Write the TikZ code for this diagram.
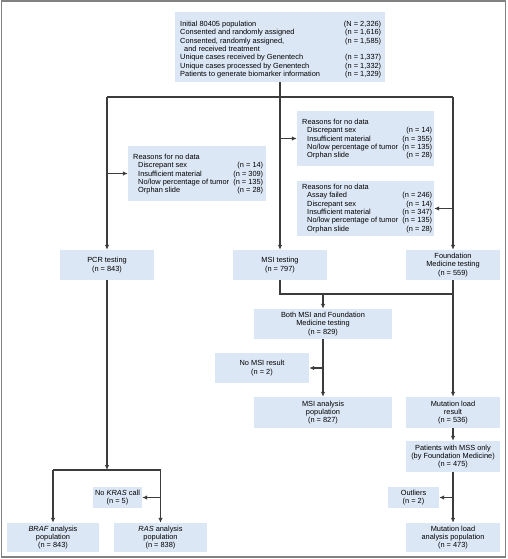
\documentclass[tikz,border=0pt]{standalone}
\usepackage{fontspec}
\setmainfont{Liberation Sans}
\usetikzlibrary{arrows.meta}
\definecolor{boxblue}{RGB}{220,231,246}
\definecolor{linegray}{RGB}{60,60,60}
\definecolor{framegray}{RGB}{130,130,130}
\tikzset{
  box/.style={fill=boxblue, draw=none, inner sep=0pt, align=center, font=\fontsize{7.4}{8.3}\selectfont},
  conn/.style={draw=linegray, line width=1.1pt},
  arr/.style={conn, -{Latex[length=5pt,width=4.5pt]}},
  txt/.style={anchor=base west, inner sep=0pt, font=\fontsize{7.4}{8.3}\selectfont},
}
\setlength{\tabcolsep}{0pt}
\begin{document}
\begin{tikzpicture}[x=1pt,y=-1pt]
\useasboundingbox (0,0) rectangle (507,559);
\draw[framegray, line width=1.3pt] (1.5,1) rectangle (505.5,557);

% boxes
\node[box, minimum width=210pt, minimum height=70pt] (top) at (280,47) {};
\node[txt] at (180,26.6) {\begin{tabular*}{201pt}[t]{@{\extracolsep{\fill}}lr@{}}
Initial 80405 population & (N = 2,326)\\
Consented and randomly assigned & (n = 1,616)\\
Consented, randomly assigned, & (n = 1,585)\\
\hspace{4pt}and received treatment & \\
Unique cases received by Genentech & (n = 1,337)\\
Unique cases processed by Genentech & (n = 1,332)\\
Patients to generate biomarker information & (n = 1,329)
\end{tabular*}};

\node[box, minimum width=138pt, minimum height=55pt] (r1) at (197,173.5) {};
\node[txt] at (133,159.6) {\begin{tabular*}{130pt}[t]{@{\extracolsep{\fill}}lr@{}}
\multicolumn{2}{@{}l@{}}{Reasons for no data}\\
\hspace{5pt}Discrepant sex & (n = 14)\\
\hspace{5pt}Insufficient material & (n = 309)\\
\hspace{5pt}No/low percentage of tumor & (n = 135)\\
\hspace{5pt}Orphan slide & (n = 28)
\end{tabular*}};

\node[box, minimum width=137pt, minimum height=55pt] (r2) at (365.5,138.5) {};
\node[txt] at (302,124.6) {\begin{tabular*}{130pt}[t]{@{\extracolsep{\fill}}lr@{}}
\multicolumn{2}{@{}l@{}}{Reasons for no data}\\
\hspace{5pt}Discrepant sex & (n = 14)\\
\hspace{5pt}Insufficient material & (n = 355)\\
\hspace{5pt}No/low percentage of tumor & (n = 135)\\
\hspace{5pt}Orphan slide & (n = 28)
\end{tabular*}};

\node[box, minimum width=137pt, minimum height=55pt] (r3) at (365.5,208.5) {};
\node[txt] at (302,189.6) {\begin{tabular*}{130pt}[t]{@{\extracolsep{\fill}}lr@{}}
\multicolumn{2}{@{}l@{}}{Reasons for no data}\\
\hspace{5pt}Assay failed & (n = 246)\\
\hspace{5pt}Discrepant sex & (n = 14)\\
\hspace{5pt}Insufficient material & (n = 347)\\
\hspace{5pt}No/low percentage of tumor & (n = 135)\\
\hspace{5pt}Orphan slide & (n = 28)
\end{tabular*}};

\node[box, minimum width=94pt, minimum height=30pt] (pcr) at (107,265) {PCR testing\\(n = 843)};
\node[box, minimum width=94pt, minimum height=30pt] (msi) at (280,265) {MSI testing\\(n = 797)};
\node[box, minimum width=94pt, minimum height=30pt] (fmt) at (453,265) {Foundation\\Medicine testing\\(n = 559)};
\node[box, minimum width=138pt, minimum height=30pt] (both) at (323,324) {Both MSI and Foundation\\Medicine testing\\(n = 829)};
\node[box, minimum width=94pt, minimum height=30pt] (nomsi) at (262,368) {No MSI result\\(n = 2)};
\node[box, minimum width=138pt, minimum height=31pt] (msia) at (323,412.5) {MSI analysis\\population\\(n = 827)};
\node[box, minimum width=94pt, minimum height=31pt] (mlr) at (453,412.5) {Mutation load\\result\\(n = 536)};
\node[box, minimum width=94pt, minimum height=31pt] (mss) at (453,456.5) {Patients with MSS only\\(by Foundation Medicine)\\(n = 475)};
\node[box, minimum width=51pt, minimum height=21pt] (outl) at (413.5,497.5) {Outliers\\(n = 2)};
\node[box, minimum width=94pt, minimum height=29pt] (mla) at (453,537.5) {Mutation load\\analysis population\\(n = 473)};
\node[box, minimum width=49pt, minimum height=21pt] (nokras) at (117.5,497.5) {No \textit{KRAS} call\\(n = 5)};
\node[box, minimum width=92pt, minimum height=29pt] (braf) at (53,537.5) {\textit{BRAF} analysis\\population\\(n = 843)};
\node[box, minimum width=93pt, minimum height=29pt] (ras) at (160.5,537.5) {\textit{RAS} analysis\\population\\(n = 838)};

% connectors
\coordinate (hl) at (107,97);
\coordinate (hr) at (453,97);
\draw[conn] (hl) -- (hr);
\draw[arr] (top.south) -- (msi.north);
\draw[arr] (hl) -- (pcr.north);
\draw[arr] (hr) -- (fmt.north);
\draw[arr] (hl |- r1.west) -- (r1.west);
\draw[arr] (msi.north |- r2.west) -- (r2.west);
\draw[arr] (hr |- r3.east) -- (r3.east);

\coordinate (mj) at (280,294);
\draw[conn] (msi.south) -- (mj) -- (fmt.south |- mj);
\draw[arr] (both.north |- mj) -- (both.north);
\draw[arr] (fmt.south) -- (mlr.north);
\draw[arr] (both.south) -- (msia.north);
\draw[arr] (both.south |- nomsi.east) -- (nomsi.east);
\draw[arr] (mlr.south) -- (mss.north);
\draw[arr] (mss.south) -- (mla.north);
\draw[arr] (mss.south |- outl.east) -- (outl.east);

\coordinate (pj) at (107,470);
\draw[arr] (pcr.south) -- (pj);
\draw[conn] (braf.north |- pj) -- (ras.north |- pj);
\draw[arr] (braf.north |- pj) -- (braf.north);
\draw[arr] (ras.north |- pj) -- (ras.north);
\draw[arr] (ras.north |- nokras.east) -- (nokras.east);
\end{tikzpicture}
\end{document}
